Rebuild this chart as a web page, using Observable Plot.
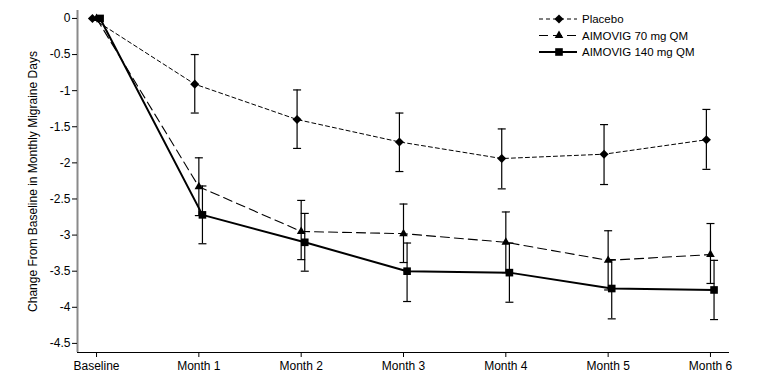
<!DOCTYPE html>
<html>
<head>
<meta charset="utf-8">
<script src="https://cdn.jsdelivr.net/npm/d3@7"></script>
<script src="https://cdn.jsdelivr.net/npm/@observablehq/plot@0.6"></script>
<style>
  html, body { margin: 0; padding: 0; background: #fff; }
  #wrap { position: relative; width: 765px; height: 385px; }
  #legend { position: absolute; left: 0; top: 0; pointer-events: none; }
</style>
</head>
<body>
<div id="wrap"></div>
<script>
// ---- data ----
const months = ["Baseline", "Month 1", "Month 2", "Month 3", "Month 4", "Month 5", "Month 6"];
const seriesNames = ["Placebo", "AIMOVIG 70 mg QM", "AIMOVIG 140 mg QM"];

const placebo      = [0, -0.91, -1.40, -1.71, -1.94, -1.88, -1.68];
const placeboUpper = [null, -0.50, -0.99, -1.31, -1.53, -1.47, -1.26];
const placeboLower = [null, -1.31, -1.80, -2.12, -2.36, -2.30, -2.09];

const aim70      = [0, -2.33, -2.95, -2.98, -3.10, -3.35, -3.27];
const aim70Upper = [null, -1.93, -2.52, -2.57, -2.68, -2.94, -2.84];
const aim70Lower = [null, -2.73, -3.34, -3.38, -3.52, -3.76, -3.67];

const aim140      = [0, -2.72, -3.10, -3.50, -3.52, -3.74, -3.76];
const aim140Upper = [null, -2.32, -2.70, -3.11, -3.11, -3.34, -3.35];
const aim140Lower = [null, -3.12, -3.50, -3.92, -3.93, -4.16, -4.17];

const yTicks = [0, -0.5, -1, -1.5, -2, -2.5, -3, -3.5, -4, -4.5];

// ---- styles (kept separate from data) ----
const styles = {
  "Placebo":           {offset: -0.04, symbol: "diamond2", r: 4.1, dash: "4,3", width: 1},
  "AIMOVIG 70 mg QM":  {offset: 0.0,   symbol: "triangle", r: 3.2, dash: "9,5", width: 1.1},
  "AIMOVIG 140 mg QM": {offset: 0.035, symbol: "square",   r: 4.3, dash: null,  width: 2}
};

const raw = [
  [placebo, placeboUpper, placeboLower],
  [aim70, aim70Upper, aim70Lower],
  [aim140, aim140Upper, aim140Lower]
];

const rows = [];
seriesNames.forEach((name, s) => {
  const [v, up, lo] = raw[s];
  months.forEach((m, i) => {
    rows.push({series: name, month: m, idx: i, x: i + styles[name].offset,
               y: v[i], upper: up[i], lower: lo[i]});
  });
});
const errRows = rows.filter(d => d.upper != null);

const xDomain = [-0.186, months.length - 1 + 0.186];
const yDomain = [-4.626, 0.11];

const capSymbol = {
  draw(ctx, size) {
    const r = Math.sqrt(size / Math.PI);
    ctx.moveTo(-r, 0);
    ctx.lineTo(r, 0);
  }
};

const font = "'Liberation Sans', Arial, sans-serif";

const marks = [];
// axis lines
marks.push(Plot.ruleX([xDomain[0]], {stroke: "#8a8a8a", strokeWidth: 2}));
marks.push(Plot.ruleY([yDomain[0]], {stroke: "#000", strokeWidth: 1}));
// axes
marks.push(Plot.axisY({ticks: yTicks, tickSize: 5, tickPadding: 2, tickFormat: d => String(d),
  label: null, fontSize: 12, stroke: "#000"}));
marks.push(Plot.axisX({ticks: months.map((m, i) => i), tickSize: 5, tickPadding: 4,
  tickFormat: i => months[i], label: null, fontSize: 12, stroke: "#000"}));
// y axis title
marks.push(Plot.text(["Change From Baseline in Monthly Migraine Days"], {
  frameAnchor: "left", textAnchor: "middle", rotate: -90, dx: -44, fontSize: 12, fill: "#000", text: d => d
}));

seriesNames.forEach(name => {
  const st = styles[name];
  const data = rows.filter(d => d.series === name);
  const err = errRows.filter(d => d.series === name);
  marks.push(Plot.line(data, {x: "x", y: "y", stroke: "#000", strokeWidth: st.width,
    strokeDasharray: st.dash || undefined}));
  marks.push(Plot.ruleX(err, {x: "x", y1: "lower", y2: "upper", stroke: "#000", strokeWidth: 1.2}));
  marks.push(Plot.dot(err, {x: "x", y: "upper", symbol: capSymbol, r: 4, stroke: "#000", strokeWidth: 1.2, fill: "none"}));
  marks.push(Plot.dot(err, {x: "x", y: "lower", symbol: capSymbol, r: 4, stroke: "#000", strokeWidth: 1.2, fill: "none"}));
});
seriesNames.forEach(name => {
  const st = styles[name];
  const data = rows.filter(d => d.series === name);
  marks.push(Plot.dot(data, {x: "x", y: "y", symbol: st.symbol, r: st.r, fill: "#000", stroke: "none"}));
});

const chart = Plot.plot({
  width: 765,
  height: 385,
  marginLeft: 77,
  marginRight: 36,
  marginTop: 10,
  marginBottom: 33,
  style: {fontFamily: font, fontSize: "12px", color: "#000", background: "#fff"},
  x: {type: "linear", domain: xDomain, axis: null},
  y: {type: "linear", domain: yDomain, axis: null},
  marks
});
document.getElementById("wrap").appendChild(chart);

// ---- legend (overlay, top right) ----
const lg = d3.select("#wrap").append("svg").attr("id", "legend")
  .attr("width", 765).attr("height", 385)
  .style("font-family", font);
const legendRows = seriesNames.map((name, i) => ({name, i}));
const rowY = [19, 35.5, 52];
const g = lg.selectAll("g").data(legendRows).join("g")
  .attr("transform", d => `translate(0,${rowY[d.i]})`);
g.append("line").attr("x1", 539).attr("x2", 577).attr("y1", 0).attr("y2", 0)
  .attr("stroke", "#000")
  .attr("stroke-width", d => styles[d.name].width)
  .attr("stroke-dasharray", d => styles[d.name].dash);
g.append("path")
  .attr("transform", "translate(559,0)")
  .attr("d", d => {
    const st = styles[d.name];
    const sym = {diamond2: d3.symbolDiamond2, triangle: d3.symbolTriangle, square: d3.symbolSquare}[st.symbol];
    return d3.symbol(sym, st.r * st.r * Math.PI)();
  })
  .attr("fill", "#000");
g.append("text").attr("x", 582).attr("y", 4).attr("font-size", 11.5)
  .attr("fill", "#000").text(d => d.name);
</script>
</body>
</html>
